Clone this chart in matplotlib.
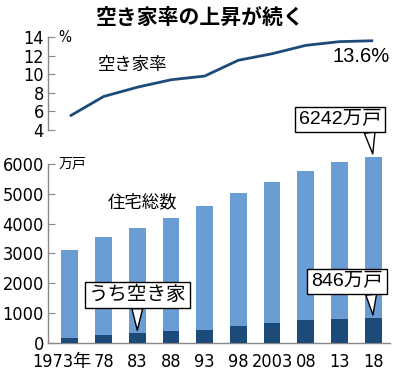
import matplotlib
matplotlib.use('Agg')
import matplotlib.pyplot as plt
import matplotlib.transforms as mtransforms

plt.rcParams['font.family'] = ['DejaVu Sans', 'Noto Sans CJK JP']
plt.rcParams['font.stretch'] = 'condensed'

years = ['1973年', '78', '83', '88', '93', '98', '2003', '08', '13', '18']
vacancy_rate = [5.5, 7.6, 8.6, 9.4, 9.8, 11.5, 12.2, 13.1, 13.5, 13.6]
total_homes = [3106, 3545, 3861, 4201, 4588, 5025, 5389, 5759, 6063, 6242]
vacant_homes = [172, 268, 330, 394, 448, 576, 659, 757, 820, 846]

light = '#6a9dd3'
dark = '#1c4b79'
grey = '#888888'
jp = ['Noto Sans CJK JP', 'DejaVu Sans']

fig = plt.figure(figsize=(4, 3.7), dpi=100)
W, H = 400, 370

def box(l, b, r, t):
    return [l / W, 1 - b / H, (r - l) / W, (b - t) / H]

x = list(range(len(years)))
xlim = (-0.65, 9.5)

# top: vacancy rate line
ax1 = fig.add_axes(box(48, 130, 390, 37))
ax1.plot(x, vacancy_rate, color=dark, lw=2.0, solid_capstyle='butt')
ax1.set_xlim(*xlim)
ax1.set_ylim(4, 14)
ax1.set_yticks([4, 6, 8, 10, 12, 14])
for s in ['top', 'right', 'bottom']:
    ax1.spines[s].set_visible(False)
ax1.spines['left'].set_color(grey)
ax1.spines['left'].set_linewidth(1.0)
ax1.set_xticks([])
ax1.tick_params(axis='y', direction='in', length=5, color=grey, labelsize=13, pad=3)
ax1.text(0.03, 14, '%', fontsize=11, va='center', ha='left', family=['DejaVu Sans'],
         transform=mtransforms.blended_transform_factory(ax1.transAxes, ax1.transData))
ax1.text(1.85, 11.0, '空き家率', fontsize=12.5, family=jp, ha='center', va='center')
ax1.text(9.5, 11.9, f'{vacancy_rate[-1]}%', fontsize=14.5, family=['Liberation Sans', 'DejaVu Sans'],
         stretch='normal', ha='right', va='center')

# bottom: housing stock bars
ax2 = fig.add_axes(box(48, 343, 390, 146))
ax2.bar(x, total_homes, width=0.5, color=light, zorder=2)
ax2.bar(x, vacant_homes, width=0.5, color=dark, zorder=3)
ax2.set_xlim(*xlim)
ax2.set_ylim(0, 6600)
ax2.set_yticks(range(0, 7000, 1000))
ax2.spines['top'].set_visible(False)
ax2.spines['right'].set_visible(False)
ax2.spines['left'].set_bounds(0, 6000)
for s in ['left', 'bottom']:
    ax2.spines[s].set_color(grey)
    ax2.spines[s].set_linewidth(1.0)
ax2.tick_params(axis='y', direction='in', length=5, color=grey, labelsize=13, pad=3)
ax2.set_xticks(x)
ax2.set_xticklabels(years)
ax2.tick_params(axis='x', length=0, labelsize=13, pad=7)
lab0 = ax2.get_xticklabels()[0]
lab0.set_transform(lab0.get_transform() + mtransforms.ScaledTranslation(-0.08, 0, fig.dpi_scale_trans))

ax2.text(0.03, 6000, '万戸', fontsize=10, family=jp, va='center', ha='left',
         transform=mtransforms.blended_transform_factory(ax2.transAxes, ax2.transData))
ax2.text(2.15, 4700, '住宅総数', fontsize=12.5, family=jp, ha='center', va='center')

def callout(text, xi, yv, dx, dy, rx):
    ax2.annotate(text, xy=(xi, yv), xytext=(dx, dy), textcoords='offset pixels',
                 ha='center', va='center', fontsize=14, family=['Liberation Sans', 'Noto Sans CJK JP'],
                 stretch='normal', annotation_clip=False, zorder=5,
                 bbox=dict(boxstyle='square,pad=0.2', fc='white', ec='black', lw=1.0),
                 arrowprops=dict(arrowstyle='wedge,tail_width=0.55,shrink_factor=0.5',
                                 fc='white', ec='black', lw=1.0, relpos=(rx, 0.0),
                                 shrinkA=0, shrinkB=2))

callout(f'{total_homes[-1]}万戸', 9, total_homes[-1], -33, 37, 0.85)
callout(f'{vacant_homes[-1]}万戸', 9, vacant_homes[-1], -26, 36, 0.83)
callout('うち空き家', 2, vacant_homes[2], 0, 38, 0.5)

fig.text(0.5, 1 - 17 / H, '空き家率の上昇が続く', fontsize=15, family=jp,
         fontweight='bold', ha='center', va='center')

fig.savefig('out.png', dpi=100)
